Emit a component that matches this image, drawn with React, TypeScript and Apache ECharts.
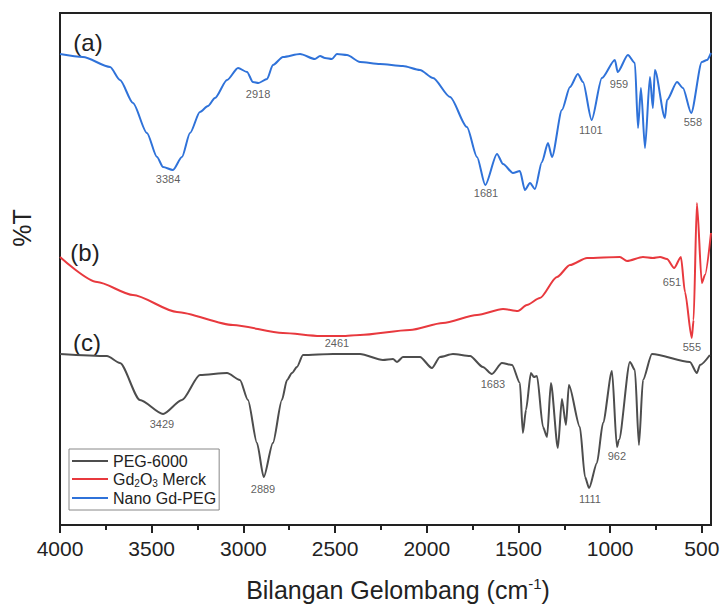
import React, { useEffect, useRef } from "react";
import * as echarts from "echarts";

// Wavenumber (cm-1) and relative %T (offset, arbitrary units) for each spectrum
const WN_A = [4000,3875,3727,3673,3602,3526,3471,3438,3384,3335,3291,3237,3193,3155,3089,3029,2980,2948,2918,2871,2839,2784,2691,2610,2582,2555,2517,2490,2435,2364,2255,2130,2037,1966,1873,1781,1726,1681,1617,1584,1530,1492,1465,1437,1410,1372,1339,1317,1263,1219,1176,1148,1101,1045,974,959,903,865,848,832,810,783,767,756,701,690,635,603,558,500,472,450];
const T_A = [471,468,458,445,422,392,368,358,355,368,392,413,419,427,445,457,453,443,442,446,460,468,471,466,469,467,466,471,470,463,461,459,455,447,428,398,368,340,371,361,352,354,335,342,336,363,382,368,415,438,451,443,405,447,465,453,470,462,397,437,377,448,417,455,407,425,443,437,412,463,465,472];

const WN_B = [4000,3798,3602,3362,3057,2784,2582,2462,2364,2092,1912,1726,1584,1503,1454,1383,1290,1219,1126,947,908,821,767,728,690,651,614,592,555,545,527,500,483,450];
const T_B = [268,243,230,213,200,192,189,189,190,195,202,210,216,214,220,227,248,260,267,268,264,268,267,268,266,257,268,233,187,205,322,242,250,292];

const WN_C = [4000,3744,3673,3564,3438,3335,3237,3089,3019,2975,2926,2889,2839,2790,2762,2735,2708,2675,2511,2364,2239,2184,2162,2130,2037,1972,1928,1857,1764,1694,1645,1590,1535,1492,1476,1459,1432,1416,1399,1366,1344,1323,1285,1263,1241,1225,1165,1137,1115,1072,1039,990,963,952,892,865,843,821,772,565,527,510,456];
const T_C = [171,169,162,125,111,125,150,152,145,125,82,48,82,125,145,152,158,170,171,171,165,166,163,168,168,157,168,171,169,158,151,162,160,142,92,115,152,148,149,98,88,142,77,126,100,140,98,48,37,62,102,154,78,85,163,155,80,145,171,163,152,160,170];

// Peak annotations: [wavenumber position, T position, text]
const PEAKS_A: [number, number, string][] = [[3411,346,"3384"],[2920,431,"2918"],[1677,332,"1681"],[1105,395,"1101"],[952,441,"959"],[549,403,"558"]];
const PEAKS_B: [number, number, string][] = [[2490,182,"2461"],[663,243,"651"],[554,178,"555"]];
const PEAKS_C: [number, number, string][] = [[3444,101,"3429"],[2893,36,"2889"],[1639,141,"1683"],[1110,26,"1111"],[963,69,"962"]];

const MAJOR_TICKS = [4000,3500,3000,2500,2000,1500,1000,500];
const MINOR_TICKS = [3750,3250,2750,2250,1750,1250,750];
const SERIES_NAMES = ["PEG-6000","Gd2O3 Merck","Nano Gd-PEG"];

const FONT = "'Liberation Sans', Arial, sans-serif";
const zip = (a: number[], b: number[]) => a.map((x, i) => [x, b[i]]);

export default function App() {
  const ref = useRef<HTMLDivElement>(null);
  useEffect(() => {
    document.body.style.margin = "0";
    const chart = echarts.init(ref.current!, null, { renderer: "svg" });
    const peakSeries = (peaks: [number, number, string][]) => ({
      type: "scatter",
      silent: true,
      symbolSize: 1,
      itemStyle: { color: "rgba(0,0,0,0)" },
      data: peaks.map((p) => ({ value: [p[0], p[1]], name: p[2] })),
      label: {
        show: true,
        position: "inside",
        formatter: (p: any) => p.name,
        fontSize: 11,
        color: "#333",
        textBorderWidth: 0,
        textBorderColor: "transparent",
        fontFamily: FONT,
      },
      z: 5,
    });
    const lineSeries = (name: string, data: number[][], color: string) => ({
      name,
      type: "line",
      data,
      symbol: "none",
      smooth: 0.25,
      smoothMonotone: "x",
      lineStyle: { color, width: 2 },
      itemStyle: { color },
    });
    chart.setOption({
      animation: false,
      grid: { left: 60, top: 13, width: 651, height: 512, outerBoundsMode: "none", containLabel: false, show: true, borderColor: "#222", borderWidth: 2, backgroundColor: "transparent" },
      legend: {
        data: SERIES_NAMES,
        orient: "vertical",
        left: 69,
        top: 449,
        padding: [4, 3, 4, 3],
        icon: "rect",
        itemWidth: 36,
        itemHeight: 2,
        itemGap: 2,
        borderColor: "#888",
        borderWidth: 1,
        formatter: (n: string) => (n === "Gd2O3 Merck" ? "{n|Gd}{s|2}{n|O}{s|3}{n| Merck}" : "{n|" + n + "}"),
        textStyle: {
          fontFamily: FONT,
          color: "#222",
          rich: {
            n: { fontSize: 16, lineHeight: 18, fontFamily: FONT, color: "#222" },
            s: { fontSize: 10, lineHeight: 10, verticalAlign: "bottom", fontFamily: FONT, color: "#222" },
          },
        },
      },
      xAxis: [
        {
          type: "value",
          inverse: true,
          min: 450,
          max: 4000,
          axisLine: { show: true, lineStyle: { color: "#222", width: 2 } },
          axisTick: { show: true, customValues: MAJOR_TICKS, length: 8, lineStyle: { color: "#222", width: 2 } },
          axisLabel: { show: true, customValues: MAJOR_TICKS, formatter: (v: number) => String(v), fontSize: 21, color: "#222", fontFamily: FONT, margin: 13 },
          splitLine: { show: false },
        },
        {
          type: "value",
          inverse: true,
          min: 450,
          max: 4000,
          position: "bottom",
          axisLine: { show: false },
          axisTick: { show: true, customValues: MINOR_TICKS, length: 5, lineStyle: { color: "#222", width: 2 } },
          axisLabel: { show: false },
          splitLine: { show: false },
        },
      ],
      yAxis: {
        type: "value",
        min: 0,
        max: 512,
        axisLine: { show: true, lineStyle: { color: "#222", width: 2 } },
        axisTick: { show: false },
        axisLabel: { show: false },
        splitLine: { show: false },
      },
      graphic: [
        { type: "text", x: 88, y: 42, style: { text: "(a)", font: `24px ${FONT}`, fill: "#222", textAlign: "center", textVerticalAlign: "middle" } },
        { type: "text", x: 85, y: 252, style: { text: "(b)", font: `24px ${FONT}`, fill: "#222", textAlign: "center", textVerticalAlign: "middle" } },
        { type: "text", x: 87, y: 342, style: { text: "(c)", font: `24px ${FONT}`, fill: "#222", textAlign: "center", textVerticalAlign: "middle" } },
        { type: "text", x: 22, y: 228, rotation: Math.PI / 2, style: { text: "%T", font: `25px ${FONT}`, fill: "#222", textAlign: "center", textVerticalAlign: "middle" } },
        {
          type: "text",
          x: 398,
          y: 590,
          style: {
            text: "{n|Bilangan Gelombang (cm}{s|-1}{n|)}",
            textAlign: "center",
            textVerticalAlign: "middle",
            rich: {
              n: { fontSize: 25, lineHeight: 28, fontFamily: FONT, fill: "#222" },
              s: { fontSize: 15, lineHeight: 15, verticalAlign: "top", fontFamily: FONT, fill: "#222" },
            },
          },
        },
      ],
      series: [
        lineSeries("Nano Gd-PEG", zip(WN_A, T_A), "#2f72d9"),
        lineSeries("Gd2O3 Merck", zip(WN_B, T_B), "#e8393e"),
        lineSeries("PEG-6000", zip(WN_C, T_C), "#4d4d4d"),
        peakSeries(PEAKS_A),
        peakSeries(PEAKS_B),
        peakSeries(PEAKS_C),
      ],
    });
    return () => chart.dispose();
  }, []);
  return <div ref={ref} style={{ width: 721, height: 605 }} />;
}
